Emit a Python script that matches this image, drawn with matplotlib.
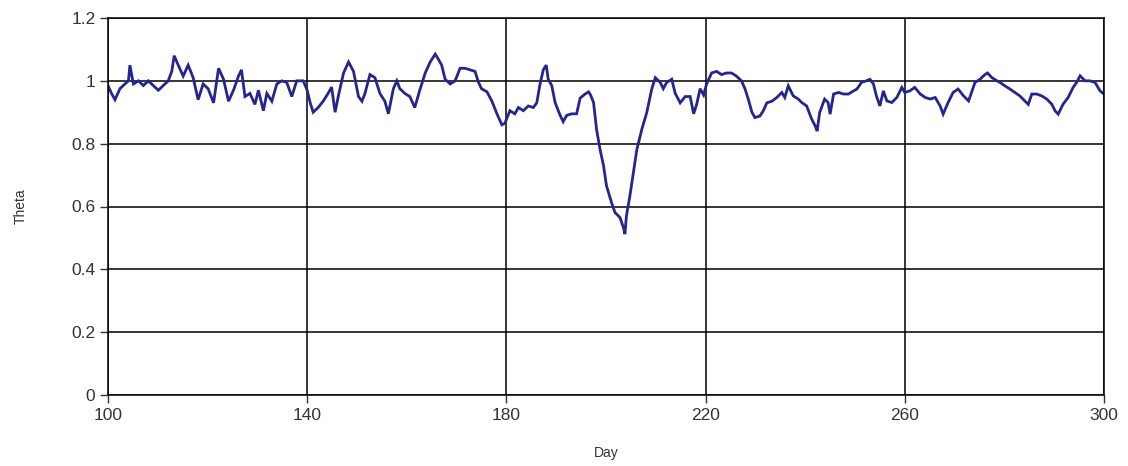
import matplotlib
matplotlib.use("Agg")
import matplotlib.pyplot as plt

day = [100.0, 100.7, 101.4, 102.4, 103.4, 104.1, 104.4, 105.1, 106.1, 107.1, 108.1, 109.1, 110.1, 111.1,
       112.1, 112.8, 113.3, 114.1, 115.1, 116.1, 117.1, 118.1, 119.1, 120.1, 121.2, 122.2, 123.2, 124.2,
       125.2, 126.2, 126.8, 127.5, 128.5, 129.5, 130.2, 131.2, 131.9, 132.9, 133.9, 134.9, 135.9, 136.9,
       137.9, 139.2, 140.0, 140.6, 141.2, 142.2, 143.2, 144.2, 144.9, 145.6, 146.3, 147.3, 148.3, 149.3,
       150.3, 151.0, 151.6, 152.6, 153.6, 154.6, 155.6, 156.3, 157.3, 158.0, 158.6, 159.6, 160.6, 161.6,
       162.6, 163.7, 164.7, 165.7, 166.3, 167.0, 167.7, 168.7, 169.7, 170.7, 171.7, 172.7, 173.7, 174.4,
       175.0, 176.1, 177.1, 178.1, 179.1, 179.7, 180.7, 181.7, 182.4, 183.4, 184.4, 185.4, 186.1, 186.7,
       187.4, 188.0, 188.4, 189.1, 189.8, 190.8, 191.4, 192.1, 193.1, 194.1, 194.8, 195.8, 196.5, 196.9,
       197.5, 198.1, 198.8, 199.5, 200.1, 201.1, 201.8, 202.8, 203.5, 203.8, 204.1, 204.8, 205.5, 206.2,
       207.2, 208.2, 209.2, 209.9, 210.9, 211.5, 212.2, 213.2, 213.9, 214.9, 215.9, 216.9, 217.6, 218.2,
       218.9, 219.6, 220.2, 221.2, 222.2, 223.2, 224.2, 225.2, 226.2, 227.2, 227.9, 228.6, 229.3, 229.9,
       230.9, 231.6, 232.3, 233.3, 234.3, 235.3, 235.9, 236.6, 237.6, 238.6, 239.3, 240.3, 241.3, 242.0,
       242.4, 242.9, 243.9, 244.6, 245.0, 245.7, 246.7, 247.7, 248.7, 249.7, 250.4, 251.3, 252.3, 253.0,
       253.7, 254.3, 255.0, 255.7, 256.4, 257.4, 258.4, 259.4, 260.0, 261.0, 262.0, 263.1, 264.1, 265.1,
       266.1, 267.1, 267.7, 268.7, 269.7, 270.7, 271.8, 272.8, 273.4, 274.1, 275.1, 276.1, 276.6, 277.5,
       278.5, 279.1, 280.1, 281.1, 282.1, 283.1, 284.1, 284.8, 285.5, 286.5, 287.5, 288.5, 289.5, 290.2,
       290.8, 291.8, 292.8, 293.8, 294.5, 295.2, 296.2, 297.2, 298.2, 299.2, 300.0]

theta = [0.985, 0.96, 0.94, 0.975, 0.99, 1.0, 1.05, 0.99, 1.0, 0.985, 1.0, 0.985, 0.97, 0.985,
         1.0, 1.03, 1.08, 1.05, 1.015, 1.05, 1.01, 0.94, 0.99, 0.975, 0.93, 1.04, 1.005, 0.935,
         0.97, 1.015, 1.035, 0.95, 0.96, 0.925, 0.97, 0.905, 0.96, 0.935, 0.99, 1.0, 0.995, 0.95,
         1.0, 1.0, 0.97, 0.93, 0.9, 0.915, 0.935, 0.96, 0.98, 0.9, 0.955, 1.025, 1.06, 1.03,
         0.95, 0.935, 0.96, 1.02, 1.01, 0.96, 0.935, 0.895, 0.975, 1.0, 0.975, 0.96, 0.95, 0.915,
         0.97, 1.025, 1.06, 1.085, 1.07, 1.05, 1.005, 0.99, 1.0, 1.04, 1.04, 1.035, 1.03, 0.995,
         0.975, 0.965, 0.935, 0.895, 0.86, 0.865, 0.905, 0.895, 0.915, 0.905, 0.92, 0.915, 0.93, 0.985,
         1.035, 1.05, 1.005, 0.985, 0.93, 0.89, 0.87, 0.89, 0.895, 0.895, 0.945, 0.958, 0.965, 0.955,
         0.931, 0.846, 0.782, 0.73, 0.666, 0.613, 0.581, 0.565, 0.533, 0.512, 0.57, 0.634, 0.708, 0.782,
         0.846, 0.9, 0.975, 1.01, 0.995, 0.975, 0.995, 1.005, 0.96, 0.93, 0.95, 0.95, 0.895, 0.925,
         0.975, 0.955, 0.99, 1.025, 1.03, 1.02, 1.025, 1.025, 1.015, 1.0, 0.975, 0.94, 0.9, 0.883,
         0.888, 0.905, 0.93, 0.935, 0.947, 0.963, 0.947, 0.984, 0.952, 0.942, 0.931, 0.92, 0.878, 0.857,
         0.84, 0.899, 0.942, 0.931, 0.894, 0.958, 0.963, 0.958, 0.958, 0.968, 0.974, 0.995, 1.0, 1.005,
         0.99, 0.952, 0.92, 0.968, 0.936, 0.931, 0.947, 0.979, 0.963, 0.968, 0.979, 0.958, 0.947, 0.942,
         0.947, 0.92, 0.894, 0.931, 0.963, 0.974, 0.952, 0.936, 0.963, 0.995, 1.005, 1.02, 1.025, 1.01,
         1.0, 0.995, 0.984, 0.974, 0.963, 0.952, 0.936, 0.925, 0.958, 0.958, 0.952, 0.942, 0.926, 0.904,
         0.894, 0.926, 0.947, 0.979, 0.995, 1.016, 1.0, 1.0, 0.995, 0.968, 0.958]

x_ticks = [100, 140, 180, 220, 260, 300]
y_ticks = [0, 0.2, 0.4, 0.6, 0.8, 1.0, 1.2]
y_tick_labels = ["0", "0.2", "0.4", "0.6", "0.8", "1", "1.2"]

plt.rcParams['font.family'] = ['Liberation Sans', 'DejaVu Sans']

fig = plt.figure(figsize=(11.28, 4.66), dpi=100)
ax = fig.add_axes([108 / 1128, 1 - 395 / 466, (1104 - 108) / 1128, (395 - 18) / 466])

ax.plot(day, theta, color='#25258f', linewidth=2.0, solid_joinstyle='miter')

ax.set_xlim(100, 300)
ax.set_ylim(0, 1.2)
ax.set_xticks(x_ticks)
ax.set_yticks(y_ticks)
ax.set_yticklabels(y_tick_labels)
ax.grid(True, color='black', linewidth=1.1)
ax.set_axisbelow(True)
for s in ax.spines.values():
    s.set_color('black')
    s.set_linewidth(1.1)
ax.tick_params(axis='both', direction='out', length=6, width=1.0, color='#333333',
               labelsize=12.5, labelcolor='#333333', pad=3)
ax.set_xlabel('Day', fontsize=10, color='#333333', labelpad=17)
ax.set_ylabel('Theta', fontsize=10, color='#333333', labelpad=31)

fig.savefig('out.png', dpi=100)
